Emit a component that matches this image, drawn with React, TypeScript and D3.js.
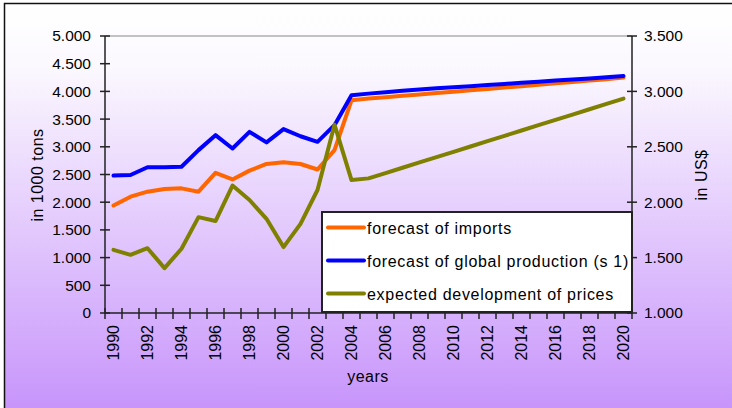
import { useRef, useEffect } from 'react';
import * as d3 from 'd3';

const years = [
  '1990', '1991', '1992', '1993', '1994', '1995', '1996', '1997', '1998', '1999', '2000',
  '2001', '2002', '2003', '2004', '2005', '2006', '2007', '2008', '2009', '2010',
  '2011', '2012', '2013', '2014', '2015', '2016', '2017', '2018', '2019', '2020',
];

// in 1000 tons (left axis)
const imports = [
  1940, 2100, 2190, 2240, 2250, 2190, 2530, 2410, 2570, 2690, 2720,
  2690, 2590, 2940, 3840, 3870, 3895, 3920, 3945, 3970, 3995,
  4020, 4045, 4070, 4095, 4120, 4145, 4170, 4195, 4220, 4250,
];
const production = [
  2480, 2490, 2630, 2630, 2640, 2940, 3210, 2970, 3270, 3080, 3320,
  3190, 3090, 3390, 3930, 3960, 3985, 4010, 4035, 4055, 4075,
  4095, 4115, 4135, 4155, 4175, 4195, 4215, 4235, 4255, 4280,
];
// in US$ (right axis)
const prices = [
  1570, 1525, 1585, 1405, 1580, 1865, 1830, 2150, 2020, 1850, 1595,
  1805, 2110, 2700, 2200, 2215, 2263, 2311, 2359, 2407, 2455,
  2503, 2551, 2599, 2647, 2695, 2743, 2791, 2839, 2887, 2935,
];

const leftTicks = [0, 500, 1000, 1500, 2000, 2500, 3000, 3500, 4000, 4500, 5000];
const rightTicks = [1000, 1500, 2000, 2500, 3000, 3500];

const seriesNames = ['forecast of imports', 'forecast of global production (s 1)', 'expected development of prices'];
const seriesColors = ['#ff6600', '#0000ff', '#808000'];

const locale = d3.formatLocale({ decimal: ',', thousands: '.', grouping: [3], currency: ['', ' $'] });
const fmt = locale.format(',.0f');

export default function App() {
  const svgRef = useRef<SVGSVGElement>(null);

  useEffect(() => {
    if (!svgRef.current) return;
    const svg = d3.select(svgRef.current);
    svg.selectAll('*').remove();

    const width = 732;
    const height = 408;
    const left = 105, right = 632, top = 36, bottom = 313;
    const font = '"Liberation Sans", Arial, sans-serif';
    const tickFont = `15.5px ${font}`;
    const labelFont = `16px ${font}`;

    // background gradient + frame
    const grad = svg.append('defs').append('linearGradient')
      .attr('id', 'bg').attr('x1', 0).attr('y1', 0).attr('x2', 0).attr('y2', 1);
    grad.append('stop').attr('offset', '0%').attr('stop-color', '#ffffff');
    grad.append('stop').attr('offset', '15%').attr('stop-color', '#fbf8fe');
    grad.append('stop').attr('offset', '100%').attr('stop-color', '#c48efb');

    svg.append('rect')
      .attr('x', 4.5).attr('y', 3.5).attr('width', width + 20).attr('height', height + 20)
      .attr('fill', 'url(#bg)').attr('stroke', '#111').attr('stroke-width', 1.5);

    const x = d3.scaleBand().domain(years).range([left, right]);
    const yL = d3.scaleLinear().domain([0, 5000]).range([bottom, top]);
    const yR = d3.scaleLinear().domain([1000, 3500]).range([bottom, top]);
    const cx = (d: string) => (x(d) ?? 0) + x.bandwidth() / 2;

    // plot area top border
    svg.append('line')
      .attr('x1', left).attr('x2', right).attr('y1', top).attr('y2', top)
      .attr('stroke', '#888').attr('stroke-width', 1);

    // lines
    const mkLine = (scale: d3.ScaleLinear<number, number>) =>
      d3.line<number>().x((_, i) => cx(years[i])).y((v) => scale(v));
    const data: [number[], d3.ScaleLinear<number, number>][] = [
      [imports, yL],
      [production, yL],
      [prices, yR],
    ];
    data.forEach(([vals, scale], i) => {
      svg.append('path')
        .attr('d', mkLine(scale)(vals))
        .attr('fill', 'none')
        .attr('stroke', seriesColors[i])
        .attr('stroke-width', 4)
        .attr('stroke-linejoin', 'round')
        .attr('stroke-linecap', 'round');
    });

    const axisColor = '#222';
    // left axis
    svg.append('line').attr('x1', left).attr('x2', left).attr('y1', top).attr('y2', bottom)
      .attr('stroke', axisColor).attr('stroke-width', 1.5);
    leftTicks.forEach((t) => {
      svg.append('line').attr('x1', left - 5).attr('x2', left + 5).attr('y1', yL(t)).attr('y2', yL(t))
        .attr('stroke', axisColor).attr('stroke-width', 1.5);
      svg.append('text').attr('x', 91).attr('y', yL(t)).attr('dy', '0.35em')
        .attr('text-anchor', 'end').style('font', tickFont).attr('fill', '#000').text(fmt(t));
    });

    // right axis
    svg.append('line').attr('x1', right).attr('x2', right).attr('y1', top).attr('y2', bottom)
      .attr('stroke', axisColor).attr('stroke-width', 1.5);
    rightTicks.forEach((t) => {
      svg.append('line').attr('x1', right - 5).attr('x2', right + 5).attr('y1', yR(t)).attr('y2', yR(t))
        .attr('stroke', axisColor).attr('stroke-width', 1.5);
      svg.append('text').attr('x', 644).attr('y', yR(t)).attr('dy', '0.35em')
        .attr('text-anchor', 'start').style('font', tickFont).attr('fill', '#000').text(fmt(t));
    });

    // bottom axis
    svg.append('line').attr('x1', left).attr('x2', right).attr('y1', bottom).attr('y2', bottom)
      .attr('stroke', axisColor).attr('stroke-width', 1.5);
    years.concat(['end']).forEach((yr, i) => {
      const bx = i < years.length ? (x(yr) ?? 0) : right;
      svg.append('line').attr('x1', bx).attr('x2', bx).attr('y1', bottom - 5).attr('y2', bottom + 6)
        .attr('stroke', axisColor).attr('stroke-width', 1.5);
    });
    years.forEach((yr, i) => {
      if (i % 2 !== 0) return;
      svg.append('text')
        .attr('transform', `translate(${cx(yr)},325) rotate(-90)`)
        .attr('dy', '0.35em')
        .attr('text-anchor', 'end')
        .style('font', `16px ${font}`).attr('fill', '#000')
        .text(yr);
    });

    // axis titles
    svg.append('text').attr('transform', 'translate(37,175) rotate(-90)').attr('dy', '0.35em')
      .attr('text-anchor', 'middle').style('font', labelFont).style('letter-spacing', '0.5px').text('in 1000 tons');
    svg.append('text').attr('transform', 'translate(701,175) rotate(-90)').attr('dy', '0.35em')
      .attr('text-anchor', 'middle').style('font', labelFont).style('letter-spacing', '0.5px').text('in US$');
    svg.append('text').attr('x', 368).attr('y', 382)
      .attr('text-anchor', 'middle').style('font', labelFont).style('letter-spacing', '0.5px').text('years');

    // legend
    const lg = svg.append('g');
    lg.append('rect').attr('x', 322).attr('y', 212).attr('width', 310).attr('height', 100)
      .attr('fill', '#fff').attr('stroke', '#222').attr('stroke-width', 2);
    seriesNames.forEach((name, i) => {
      const ly = 227.5 + i * 33;
      lg.append('line').attr('x1', 328).attr('x2', 364).attr('y1', ly).attr('y2', ly)
        .attr('stroke', seriesColors[i]).attr('stroke-width', 4).attr('stroke-linecap', 'round');
      lg.append('text').attr('x', 367).attr('y', ly + 6)
        .style('font', labelFont).style('letter-spacing', '0.7px').attr('fill', '#000').text(name);
    });
  }, []);

  return (
    <svg
      ref={svgRef}
      width={732}
      height={408}
      style={{ position: 'absolute', left: 0, top: 0, display: 'block' }}
    />
  );
}
